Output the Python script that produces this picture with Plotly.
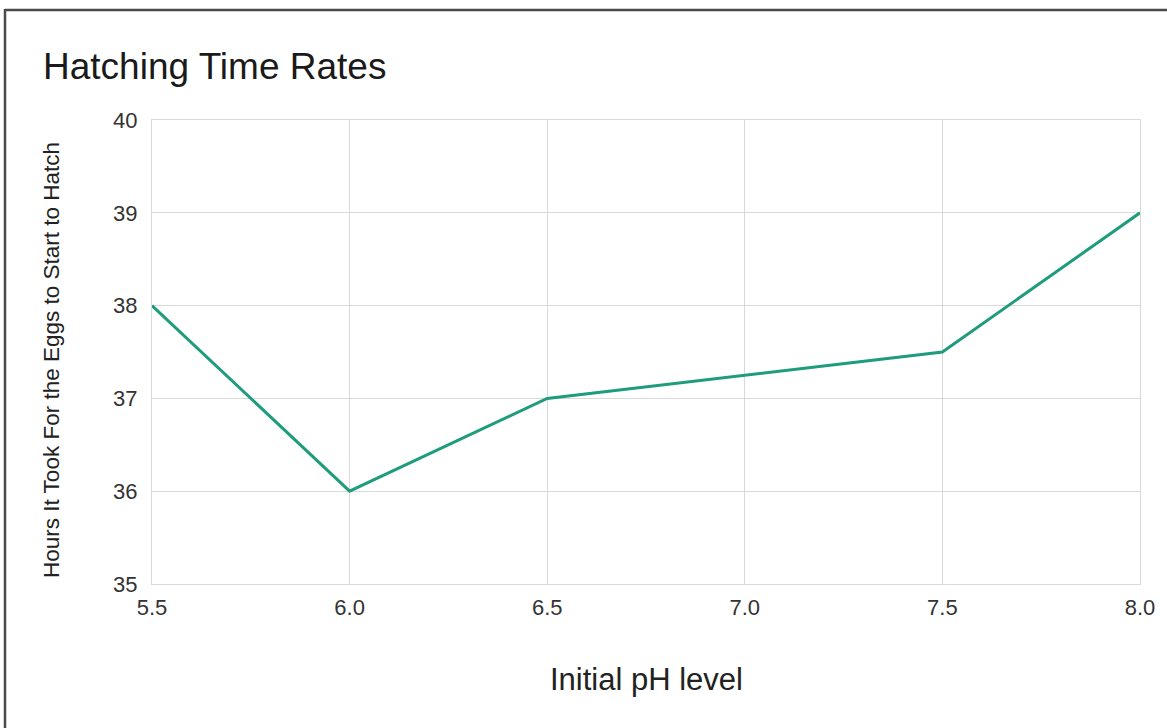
import plotly.graph_objects as go

ph_levels = [5.5, 6.0, 6.5, 7.5, 8.0]
hatch_hours = [38, 36, 37, 37.5, 39]
x_ticks = [5.5, 6.0, 6.5, 7.0, 7.5, 8.0]
x_tick_text = ["5.5", "6.0", "6.5", "7.0", "7.5", "8.0"]
y_ticks = [35, 36, 37, 38, 39, 40]

W, H = 1167, 728
L, R, T, B = 152, 27, 120, 144
pw, ph_ = W - L - R, H - T - B

def px(x):
    return (x - L) / pw

def py(y):
    return (H - B - y) / ph_

FONT = "Liberation Sans, Arial, sans-serif"

fig = go.Figure()
fig.add_trace(go.Scatter(
    x=ph_levels, y=hatch_hours, mode="lines",
    line=dict(color="#1e9c7c", width=3),
    showlegend=False, hoverinfo="x+y",
))

grid = "#d9d9d9"
fig.update_layout(
    width=W, height=H,
    margin=dict(l=L, r=R, t=T, b=B, autoexpand=False),
    paper_bgcolor="white", plot_bgcolor="white",
    font=dict(family=FONT, color="#333333"),
    title=dict(text="Hatching Time Rates", x=43 / W, xanchor="left",
               y=1 - 66 / H, yanchor="middle",
               font=dict(size=37, color="#1a1a1a", family=FONT)),
    xaxis=dict(range=[5.5, 8.0], tickvals=x_ticks, ticktext=x_tick_text,
               showgrid=True, gridcolor=grid, gridwidth=1,
               showline=True, linecolor=grid, linewidth=1, mirror=True,
               zeroline=False, ticks="", ticklabelstandoff=4,
               tickfont=dict(size=22, color="#333333")),
    yaxis=dict(range=[35, 40], tickvals=y_ticks,
               showgrid=True, gridcolor=grid, gridwidth=1,
               showline=True, linecolor=grid, linewidth=1, mirror=True,
               zeroline=False, ticks="", ticklabelstandoff=9,
               tickfont=dict(size=22, color="#333333")),
    annotations=[
        dict(text="Initial pH level", xref="paper", yref="paper",
             x=px(646), y=py(679), xanchor="center", yanchor="middle",
             showarrow=False, font=dict(size=31, color="#222222", family=FONT)),
        dict(text="Hours It Took For the Eggs to Start to Hatch", xref="paper", yref="paper",
             x=px(51), y=py(360), xanchor="center", yanchor="middle", textangle=-90,
             showarrow=False, font=dict(size=22.5, color="#222222", family=FONT)),
    ],
    shapes=[
        dict(type="line", xref="paper", yref="paper", x0=px(5), x1=px(W + 2),
             y0=py(10), y1=py(10), line=dict(color="#4a4a4a", width=2.5)),
        dict(type="line", xref="paper", yref="paper", x0=px(5), x1=px(5),
             y0=py(9), y1=py(H + 2), line=dict(color="#4a4a4a", width=2.5)),
    ],
)

fig.write_html("out.html", config={"displayModeBar": False},
               post_script="document.body.style.margin='0';")
